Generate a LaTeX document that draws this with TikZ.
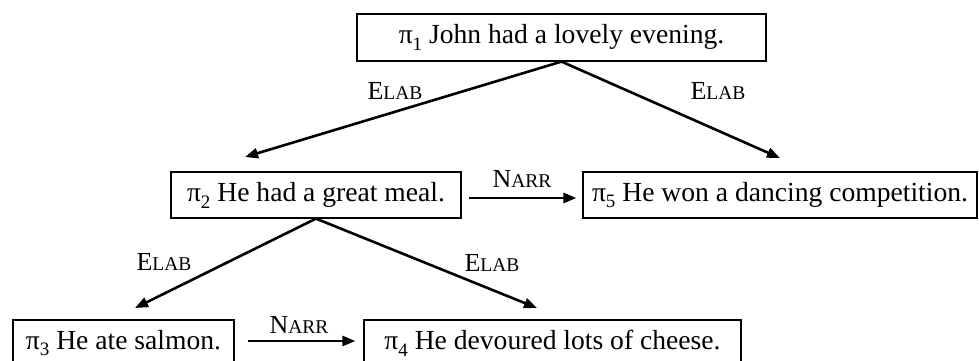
\documentclass[tikz,border=0pt]{standalone}
\usepackage{fontspec}
\setmainfont{Liberation Serif}
\usetikzlibrary{arrows.meta}

% 小型大写的关系名
\newcommand{\relname}[2]{{\fontsize{26}{30}\selectfont #1\fontsize{19.5}{22}\selectfont #2}}
% 片段编号 π_i
\newcommand{\piseg}[1]{π\raisebox{-0.25em}{\fontsize{19}{22}\selectfont #1}}

\tikzset{
    seg/.style={draw, line width=1.2pt, inner sep=0pt, minimum height=46pt,
        font=\fontsize{27.6}{32}\selectfont},
    rel/.style={inner sep=0pt},
}

\begin{document}
\begin{tikzpicture}[x=1pt, y=-1pt, >={Triangle[length=13pt, width=10pt]}, line width=2.6pt]
        \useasboundingbox (0, 0) rectangle (979, 360);
        % 话语片段
        \node[seg, minimum width=409pt, minimum height=47pt] (p1) at (561.5, 37.5) {\piseg{1} John had a lovely evening.};
        \node[seg, minimum width=290pt] (p2) at (316, 195) {\piseg{2} He had a great meal.};
        \node[seg, minimum width=394pt] (p5) at (780, 195) {\piseg{5} He won a dancing competition.};
        \node[seg, minimum width=221pt] (p3) at (123.5, 343) {\piseg{3} He ate salmon.};
        \node[seg, minimum width=377pt] (p4) at (552.5, 343) {\piseg{4} He devoured lots of cheese.};

        % 箭头终点
        \coordinate (e12) at (245, 157);
        \coordinate (e15) at (780, 158);
        \coordinate (e23) at (135, 308);
        \coordinate (e24) at (537, 308);

        \draw[->] (p1.south) -- (e12);
        \draw[->] (p1.south) -- (e15);
        \draw[->] (p2.south) -- (e23);
        \draw[->] (p2.south) -- (e24);
        \draw[->, shorten <=7pt, shorten >=6pt] ([yshift=-3pt]p2.east) -- ([yshift=-3pt]p5.west);
        \draw[->, shorten <=13pt, shorten >=8pt] ([yshift=2pt]p3.east) -- ([yshift=2pt]p4.west);

        % 关系标签
        \node[rel] (l12) at (395, 91) {\relname{E}{LAB}};
        \node[rel] (l15) at (718, 91) {\relname{E}{LAB}};
        \node[rel] (l23) at (164, 262) {\relname{E}{LAB}};
        \node[rel] (l24) at (492, 263) {\relname{E}{LAB}};
        \node[rel] (n25) at (522, 179) {\relname{N}{ARR}};
        \node[rel] (n34) at (299, 325) {\relname{N}{ARR}};
    \end{tikzpicture}
\end{document}
